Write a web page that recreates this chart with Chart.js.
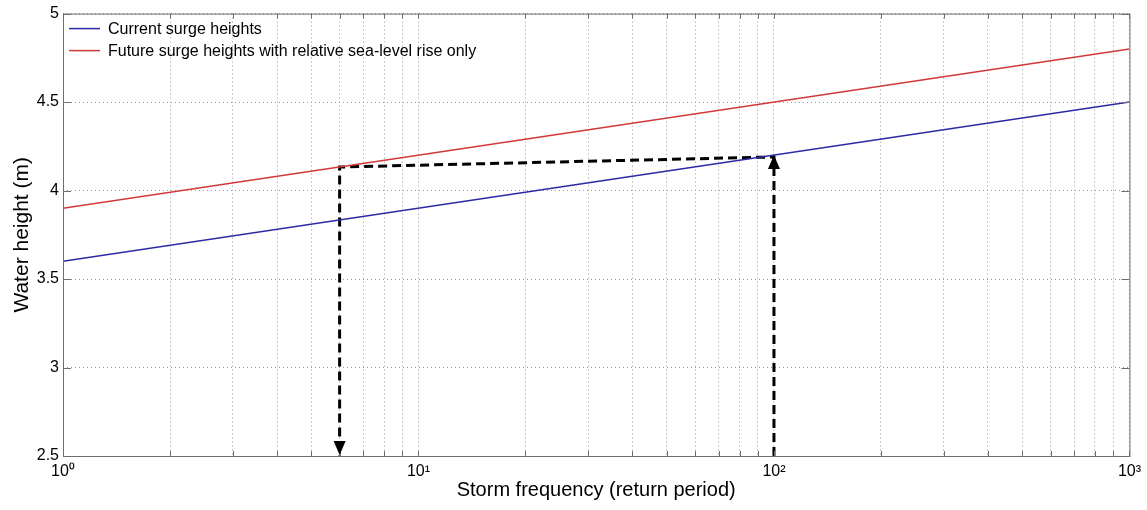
<!DOCTYPE html>
<html>
<head>
<meta charset="utf-8">
<script src="https://cdn.jsdelivr.net/npm/chart.js@4.4.1/dist/chart.umd.min.js"></script>
<style>
  html,body{margin:0;padding:0;background:#fff;}
  #wrap{width:1147px;height:510px;}
</style>
</head>
<body>
<div id="wrap"><canvas id="myChart" width="1147" height="510"></canvas></div>
<script>
// return periods (years) at the ends of each line
const periods = [1, 1000];
const currentSurge = [3.6, 4.5];
const futureSurge = [3.9, 4.8];
// dashed reading path: up from 100 yr, across to future line, down to ~6 yr
const pathX = [100, 100, 6, 6];
const pathY = [2.5, 4.19, 4.133, 2.5];
const yTicks = [2.5, 3, 3.5, 4, 4.5, 5];
const xMajor = {1:'10\u2070', 10:'10\u00b9', 100:'10\u00b2', 1000:'10\u00b3'};

const font = 'Liberation Sans, Arial, sans-serif';

function pts(xs, ys){
  return xs.map((x,i)=>({x:x, y:ys[i]}));
}

const frame = {
  id:'frame',
  beforeDraw(chart){
    const c = chart.ctx;
    c.save();
    c.fillStyle='#fff';
    c.fillRect(0,0,chart.width,chart.height);
    c.restore();
  },
  afterDraw(chart){
    const c = chart.ctx, a = chart.chartArea;
    const xs = chart.scales.x, ys = chart.scales.y;
    c.save();
    // box round the plot
    c.strokeStyle='#6e6e6e';
    c.lineWidth=1;
    c.strokeRect(a.left+0.5, a.top+0.5, a.right-a.left, a.bottom-a.top);
    // inward tick marks, matlab style
    c.beginPath();
    xs.ticks.forEach(t=>{
      const px = Math.round(xs.getPixelForValue(t.value))+0.5;
      c.moveTo(px, a.bottom); c.lineTo(px, a.bottom-5);
      c.moveTo(px, a.top); c.lineTo(px, a.top+5);
    });
    ys.ticks.forEach(t=>{
      const py = Math.round(ys.getPixelForValue(t.value))+0.5;
      c.moveTo(a.left, py); c.lineTo(a.left+8, py);
      c.moveTo(a.right, py); c.lineTo(a.right-8, py);
    });
    c.stroke();
    // arrow heads
    c.fillStyle='#000';
    const up = [xs.getPixelForValue(pathX[1]), ys.getPixelForValue(pathY[1])];
    const dn = [xs.getPixelForValue(pathX[3]), ys.getPixelForValue(pathY[3])];
    c.beginPath();
    c.moveTo(up[0], up[1]-2); c.lineTo(up[0]-6, up[1]+12); c.lineTo(up[0]+6, up[1]+12); c.closePath(); c.fill();
    c.beginPath();
    c.moveTo(dn[0], dn[1]-1); c.lineTo(dn[0]-6, dn[1]-15); c.lineTo(dn[0]+6, dn[1]-15); c.closePath(); c.fill();
    // legend inside top-left
    const items = [chart.data.datasets[0], chart.data.datasets[1]];
    c.font = '16px ' + font;
    c.textBaseline='middle';
    items.forEach((d,i)=>{
      const y = a.top + 15 + i*22;
      c.strokeStyle = d.borderColor; c.lineWidth=1.5;
      c.beginPath(); c.moveTo(a.left+6, y); c.lineTo(a.left+37, y); c.stroke();
      c.fillStyle='#000';
      c.fillText(d.label, a.left+45, y+1);
    });
    c.restore();
  }
};

new Chart('myChart', {
  type:'scatter',
  data:{
    datasets:[
      {label:'Current surge heights', data:pts(periods,currentSurge), showLine:true, borderColor:'#2a2aa6', borderWidth:1.5, pointRadius:0},
      {label:'Future surge heights with relative sea-level rise only', data:pts(periods,futureSurge), showLine:true, borderColor:'#d2383a', borderWidth:1.5, pointRadius:0},
      {label:'path', data:pts(pathX,pathY), showLine:true, borderColor:'#000', borderWidth:3, borderDash:[9,5], pointRadius:0, clip:false}
    ]
  },
  options:{
    responsive:false,
    animation:false,
    layout:{padding:{top:13, right:17, left:0, bottom:0}},
    plugins:{legend:{display:false}, tooltip:{enabled:false}},
    scales:{
      x:{
        type:'logarithmic', min:1, max:1000,
        afterBuildTicks(s){
          const t=[];
          [1,10,100].forEach(d=>{ for(let k=1;k<10;k++) t.push({value:d*k}); });
          t.push({value:1000});
          s.ticks=t;
        },
        afterFit(s){ s.height = 54; },
        grid:{color:'#9a9a9a', lineWidth:1, drawTicks:false},
        border:{display:false, dash:[1,3]},
        ticks:{
          autoSkip:false, maxRotation:0, padding:6,
          color:'#000', font:{family:font, size:16},
          callback:(v)=> xMajor[v] || ''
        },
        title:{display:true, text:'Storm frequency (return period)', color:'#000', font:{family:font, size:20}, padding:{top:0,bottom:8}}
      },
      y:{
        min:2.5, max:5,
        afterBuildTicks(s){ s.ticks = yTicks.map(v=>({value:v})); },
        afterFit(s){ s.width = 63; },
        grid:{color:'#9a9a9a', lineWidth:1, drawTicks:false},
        border:{display:false, dash:[1,3]},
        ticks:{color:'#000', padding:4, font:{family:font, size:16}, callback:(v)=>String(v)},
        title:{display:true, text:'Water height (m)', color:'#000', font:{family:font, size:21}, padding:{top:10,bottom:0}}
      }
    }
  },
  plugins:[frame]
});
</script>
</body>
</html>
